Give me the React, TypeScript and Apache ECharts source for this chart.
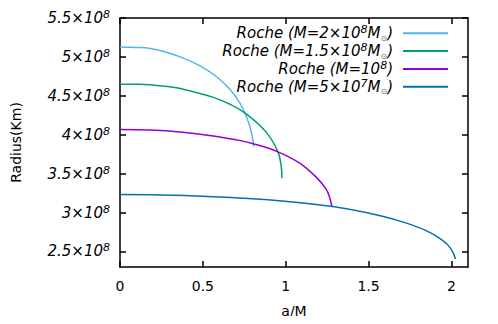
import React, { useEffect, useRef } from "react";
import * as echarts from "echarts";

// Radius values are in units of 10^8 km
const seriesNames = ["M2e8", "M15e7", "M1e8", "M5e7"];
const seriesColors = ["#56b4e9", "#009e73", "#9400d3", "#0072b2"];

const aM2e8 = [0, 0.1, 0.182, 0.28, 0.382, 0.483, 0.583, 0.663, 0.723, 0.763, 0.793, 0.807];
const rM2e8 = [5.128, 5.122, 5.108, 5.06, 4.985, 4.885, 4.745, 4.585, 4.41, 4.235, 4.03, 3.846];

const aM15e7 = [0, 0.1, 0.182, 0.3, 0.382, 0.563, 0.67, 0.763, 0.883, 0.953, 0.973, 0.977];
const rM15e7 = [4.65, 4.649, 4.643, 4.615, 4.585, 4.48, 4.385, 4.265, 4.03, 3.78, 3.59, 3.441];

const aM1e8 = [0, 0.18, 0.362, 0.563, 0.7, 0.803, 0.953, 1.084, 1.184, 1.244, 1.264, 1.28];
const rM1e8 = [4.067, 4.06, 4.035, 3.985, 3.935, 3.885, 3.78, 3.635, 3.455, 3.3, 3.2, 3.069];

const aM5e7 = [0, 0.25, 0.531, 0.8, 1.072, 1.274, 1.484, 1.685, 1.845, 1.945, 1.995, 2.025];
const rM5e7 = [3.231, 3.226, 3.207, 3.176, 3.13, 3.08, 3.0, 2.893, 2.77, 2.645, 2.54, 2.403];

const xTicks = [0, 0.5, 1, 1.5, 2];
const yTicks = [2.5, 3, 3.5, 4, 4.5, 5, 5.5];

const legendTexts: Record<string, string> = {
  M2e8: "{t|Roche (M=2×10}{s|8}{t|M}{u|⊙}{t|)}",
  M15e7: "{t|Roche (M=1.5×10}{s|8}{t|M}{u|⊙}{t|)}",
  M1e8: "{t|Roche (M=10}{s|8}{t|)}",
  M5e7: "{t|Roche (M=5×10}{s|7}{t|M}{u|⊙}{t|)}",
};

const FONT = "DejaVu Sans";

export default function App() {
  const ref = useRef<HTMLDivElement>(null);
  useEffect(() => {
    if (!ref.current) return;
    const chart = echarts.init(ref.current, null, { renderer: "svg" });
    const xs = [aM2e8, aM15e7, aM1e8, aM5e7];
    const rs = [rM2e8, rM15e7, rM1e8, rM5e7];
    const series = seriesNames.map((n, i) => ({
      name: n,
      type: "line",
      data: xs[i].map((a, j) => [a, rs[i][j]]),
      showSymbol: false,
      smooth: 0.4,
      lineStyle: { color: seriesColors[i], width: 1.5 },
      itemStyle: { color: seriesColors[i] },
      xAxisIndex: 0,
      yAxisIndex: 0,
    }));
    const richLegend = {
      t: { fontSize: 15, fontStyle: "italic", fontFamily: FONT, color: "#000", lineHeight: 18 },
      s: { fontSize: 11, fontStyle: "italic", fontFamily: FONT, color: "#000", lineHeight: 11, verticalAlign: "top" },
      u: { fontSize: 8, fontFamily: FONT, color: "#666", lineHeight: 8, verticalAlign: "bottom" },
    };
    const rowCenters = [33.3, 51, 69, 86.7];
    const legends = seriesNames.map((n, i) => ({
      data: [n],
      right: 50,
      top: rowCenters[i] - 9,
      padding: 0,
      align: "right",
      icon: "rect",
      itemWidth: 45,
      itemHeight: 2,
      selectedMode: false,
      formatter: (name: string) => legendTexts[name],
      textStyle: { rich: richLegend, padding: [0, 5, 0, 0] },
    }));
    const axisLineStyle = { color: "#000", width: 1.5 };
    const tickStyle = { color: "#000", width: 1.5 };
    chart.setOption({
      animation: false,
      grid: { left: 120, right: 30, top: 18, bottom: 57, outerBoundsMode: "none" },
      legend: legends,
      xAxis: [
        {
          type: "value",
          min: 0,
          max: 2.1,
          position: "bottom",
          name: "a/M",
          nameLocation: "middle",
          nameGap: 37,
          nameTextStyle: { fontSize: 14, fontFamily: FONT, color: "#000" },
          axisLine: { show: true, onZero: false, lineStyle: axisLineStyle },
          axisTick: { show: true, inside: true, length: 6, lineStyle: tickStyle, customValues: xTicks },
          axisLabel: {
            customValues: xTicks,
            formatter: (v: number) => String(v),
            fontSize: 14,
            fontFamily: FONT,
            color: "#000",
            margin: 12,
          },
          splitLine: { show: false },
        },
        {
          type: "value",
          min: 0,
          max: 2.1,
          position: "top",
          axisLine: { show: true, onZero: false, lineStyle: axisLineStyle },
          axisTick: { show: true, inside: true, length: 6, lineStyle: tickStyle, customValues: xTicks },
          axisLabel: { show: false },
          splitLine: { show: false },
        },
      ],
      yAxis: [
        {
          type: "value",
          min: 2.3,
          max: 5.5,
          position: "left",
          name: "Radius(Km)",
          nameLocation: "middle",
          nameGap: 97,
          nameTextStyle: { fontSize: 14, fontFamily: FONT, color: "#000" },
          axisLine: { show: true, onZero: false, lineStyle: axisLineStyle },
          axisTick: { show: true, inside: true, length: 6, lineStyle: tickStyle, customValues: yTicks },
          axisLabel: {
            customValues: yTicks,
            formatter: (v: number) => `{b|${v}×10}{s|8}`,
            margin: 10,
            rich: {
              b: { fontSize: 15, fontStyle: "italic", fontFamily: FONT, color: "#000", lineHeight: 18 },
              s: { fontSize: 11, fontStyle: "italic", fontFamily: FONT, color: "#000", lineHeight: 11, verticalAlign: "top" },
            },
          },
          splitLine: { show: false },
        },
        {
          type: "value",
          min: 2.3,
          max: 5.5,
          position: "right",
          axisLine: { show: true, onZero: false, lineStyle: axisLineStyle },
          axisTick: { show: true, inside: true, length: 6, lineStyle: tickStyle, customValues: yTicks },
          axisLabel: { show: false },
          splitLine: { show: false },
        },
      ],
      series,
    });
    return () => chart.dispose();
  }, []);
  return <div ref={ref} style={{ width: 498, height: 324, margin: -8 }} />;
}
